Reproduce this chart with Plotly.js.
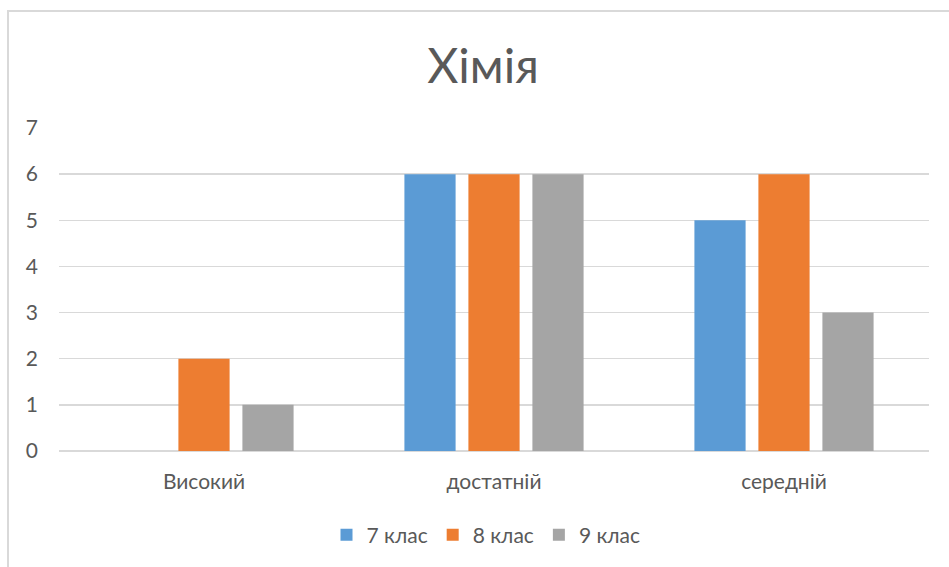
<!DOCTYPE html>
<html>
<head>
<meta charset="utf-8">
<script src="https://cdn.plot.ly/plotly-3.0.1.min.js"></script>
<style>
  html, body { margin: 0; padding: 0; background: #fff; }
  #wrap { position: relative; width: 949px; height: 567px; overflow: hidden; }
  #chart { width: 949px; height: 567px; }
  #frame { position: absolute; left: 7px; top: 10px; width: 1000px; height: 600px;
           border-left: 2px solid #d9d9d9; border-top: 2px solid #d9d9d9; pointer-events: none; }
</style>
</head>
<body>
<div id="wrap">
  <div id="chart"></div>
  <div id="frame"></div>
</div>
<script>
const categories = ["Високий", "достатній", "середній"];
const seriesNames = ["7 клас", "8 клас", "9 клас"];
const class7 = [0, 6, 5];
const class8 = [2, 6, 6];
const class9 = [1, 6, 3];
const colors = ["#5B9BD5", "#ED7D31", "#A5A5A5"];
const yTicks = [0, 1, 2, 3, 4, 5, 6, 7];

const values = [class7, class8, class9];
const traces = values.map((v, i) => ({
  type: "bar",
  name: seriesNames[i],
  x: categories,
  y: v,
  marker: { color: colors[i], line: { width: 0 } },
  hoverinfo: "x+y+name"
}));

const font = "Lato, 'Open Sans', sans-serif";
const layout = {
  width: 949, height: 567,
  margin: { l: 59, r: 20, t: 128, b: 116 },
  paper_bgcolor: "#ffffff",
  plot_bgcolor: "#ffffff",
  barmode: "group",
  bargap: 0.338,
  bargroupgap: 0.2,
  font: { family: font, color: "#595959", size: 20 },
  title: {
    text: "Хімія",
    font: { family: font, size: 48, color: "#595959" },
    xref: "container", x: 483 / 949, xanchor: "center",
    yref: "container", y: 1 - 66 / 567, yanchor: "middle"
  },
  xaxis: {
    type: "category",
    showgrid: false,
    showline: false,
    zeroline: false,
    ticks: "",
    tickfont: { family: font, size: 21, color: "#595959" },
    ticklabelstandoff: 16
  },
  yaxis: {
    range: [0, 7],
    tickvals: yTicks,
    ticktext: yTicks.map(String),
    showgrid: true,
    gridcolor: "#d9d9d9",
    gridwidth: 1.5,
    zeroline: true,
    zerolinecolor: "#d9d9d9",
    zerolinewidth: 1.5,
    showline: false,
    ticks: "",
    tickfont: { family: font, size: 21, color: "#595959" },
    ticklabelstandoff: 20
  },
  showlegend: true,
  legend: {
    orientation: "h",
    xref: "container", x: 486 / 949, xanchor: "center",
    yref: "container", y: 1 - 535 / 567, yanchor: "middle",
    font: { family: font, size: 21, color: "#595959" },
    itemclick: false
  }
};

Plotly.newPlot("chart", traces, layout, { displayModeBar: false, staticPlot: true });
</script>
</body>
</html>
